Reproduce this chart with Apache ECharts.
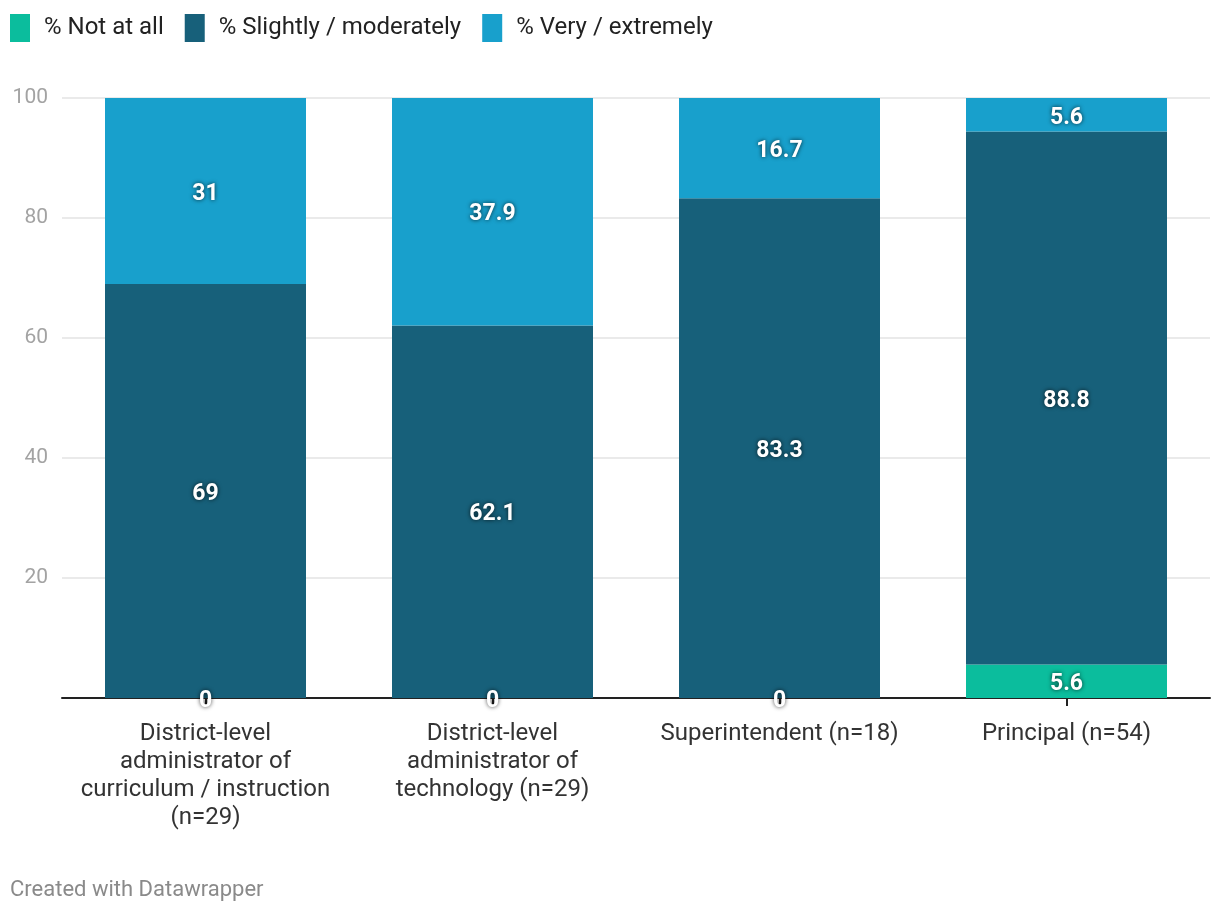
<!DOCTYPE html>
<html>
<head>
<meta charset="utf-8">
<script src="https://cdn.jsdelivr.net/npm/echarts@6/dist/echarts.min.js"></script>
<style>
html,body{margin:0;padding:0;background:#fff;}
#c{width:1220px;height:914px;}
</style>
</head>
<body>
<div id="c"></div>
<script>
const categories = [
  "District-level\nadministrator of\ncurriculum / instruction\n(n=29)",
  "District-level\nadministrator of\ntechnology (n=29)",
  "Superintendent (n=18)",
  "Principal (n=54)"
];
const seriesNames = ["% Not at all", "% Slightly / moderately", "% Very / extremely"];
const notAtAll = [0, 0, 0, 5.6];
const slightly = [69, 62.1, 83.3, 88.8];
const very = [31, 37.9, 16.7, 5.6];
const yTicks = [0, 20, 40, 60, 80, 100];
const colors = ["#0bbd9d", "#17607a", "#18a0cc"];

const chart = echarts.init(document.getElementById('c'));
const labelStyle = {
  show: true,
  position: 'inside',
  offset: [0, 3],
  color: '#fff',
  fontFamily: 'Roboto',
  fontWeight: 'bold',
  fontSize: 23,
  textShadowColor: 'rgba(0,0,0,0.75)',
  textShadowBlur: 4,
  textBorderWidth: 0
};
function mk(name, data, color) {
  return {
    name: name,
    type: 'bar',
    stack: 'total',
    data: data,
    barWidth: 201,
    itemStyle: { color: color },
    label: labelStyle,
    emphasis: { disabled: true }
  };
}
chart.setOption({
  animation: false,
  textStyle: { fontFamily: 'Roboto' },
  legend: {
    left: 5,
    top: 9,
    itemWidth: 20,
    itemHeight: 28,
    itemGap: 21,
    icon: 'rect',
    textStyle: { fontSize: 24, color: '#222', fontFamily: 'Roboto', padding: [0, 0, 0, 9] },
    data: seriesNames
  },
  grid: { left: 62, right: 10, top: 98, bottom: 216, containLabel: false },
  xAxis: {
    type: 'category',
    data: categories,
    axisLine: { lineStyle: { color: '#222', width: 2 } },
    axisTick: { show: true, alignWithLabel: true, length: 8, lineStyle: { color: '#222', width: 2 } },
    axisLabel: { color: '#333', fontSize: 24, lineHeight: 28, margin: 22, interval: 0, fontFamily: 'Roboto' }
  },
  yAxis: {
    type: 'value',
    min: yTicks[0],
    max: yTicks[yTicks.length - 1],
    interval: 20,
    axisLine: { show: false },
    axisTick: { show: false },
    splitLine: { lineStyle: { color: '#e3e3e3', width: 1.5 } },
    axisLabel: {
      color: '#a3a3a3', fontSize: 21, margin: 14, fontFamily: 'Roboto',
      formatter: function (v) { return v === 0 ? '' : String(v); }
    }
  },
  series: [
    mk(seriesNames[0], notAtAll, colors[0]),
    mk(seriesNames[1], slightly, colors[1]),
    mk(seriesNames[2], very, colors[2])
  ],
  graphic: [{
    type: 'text',
    left: 10,
    top: 879,
    style: { text: 'Created with Datawrapper', fill: '#8a8a8a', fontSize: 22, fontFamily: 'Roboto' }
  }]
});
</script>
</body>
</html>
